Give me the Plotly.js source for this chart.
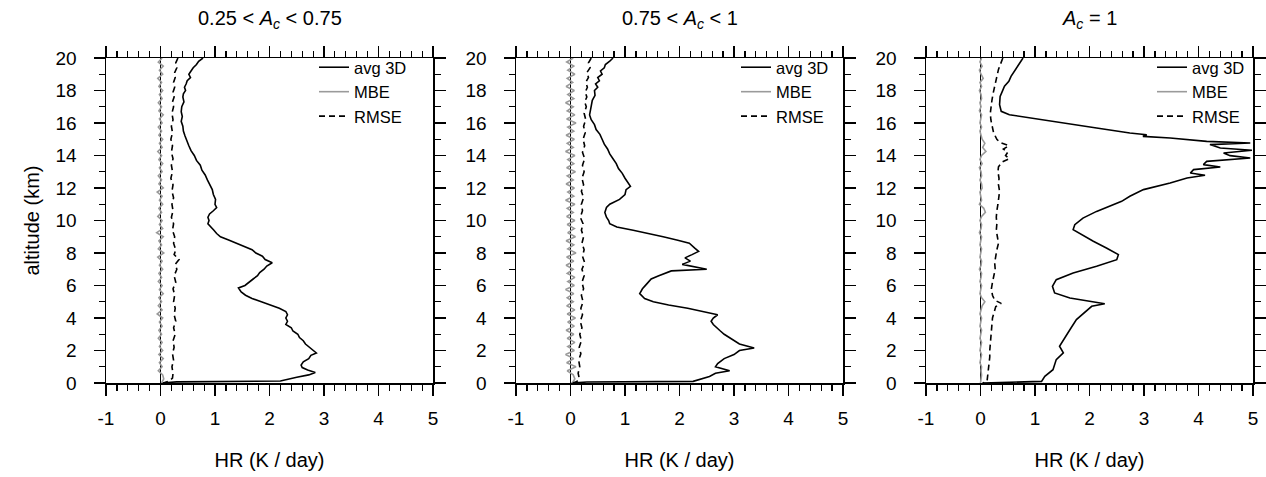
<!DOCTYPE html>
<html>
<head>
<meta charset="utf-8">
<script src="https://cdn.plot.ly/plotly-3.0.1.min.js"></script>
<style>html,body{margin:0;padding:0;background:#fff;}#chart{width:1266px;height:477px;}</style>
</head>
<body>
<div id="chart"></div>
<script>
// ---------- Data ----------
const panelTitles = ["0.25 &lt; <i>A</i><sub><i>c</i></sub> &lt; 0.75", "0.75 &lt; <i>A</i><sub><i>c</i></sub> &lt; 1", "<i>A</i><sub><i>c</i></sub> = 1"];
const seriesNames = ["avg 3D", "MBE", "RMSE"];
const xTitle = "HR (K / day)";
const yTitle = "altitude (km)";
const xTickVals = [-1, 0, 1, 2, 3, 4, 5];
const xTickText = ["-1", "0", "1", "2", "3", "4", "5"];
const yTickVals = [0, 2, 4, 6, 8, 10, 12, 14, 16, 18, 20];
const yTickText = ["0", "2", "4", "6", "8", "10", "12", "14", "16", "18", "20"];

// Panel 1: avg 3D
const avgAlt1 = [20.0,19.8,19.6,19.4,19.2,19.0,18.8,18.6,18.4,18.2,18.0,17.8,17.6,17.3,17.0,16.7,16.4,16.1,15.8,15.5,15.2,14.9,14.6,14.3,14.0,13.7,13.4,13.1,12.8,12.5,12.2,11.9,11.6,11.3,11.0,10.8,10.6,10.4,10.2,10.0,9.8,9.6,9.4,9.2,9.0,8.8,8.6,8.4,8.2,8.0,7.8,7.6,7.4,7.2,7.0,6.8,6.6,6.4,6.2,6.0,5.85,5.6,5.4,5.2,5.0,4.8,4.6,4.4,4.2,4.0,3.8,3.6,3.4,3.2,3.0,2.8,2.6,2.4,2.2,2.0,1.85,1.7,1.5,1.3,1.1,0.95,0.8,0.65,0.5,0.35,0.2,0.12,0.07,0.03,0.0];
const avg1 = [0.78,0.70,0.66,0.60,0.56,0.52,0.55,0.49,0.47,0.44,0.46,0.42,0.41,0.43,0.39,0.38,0.40,0.38,0.41,0.42,0.45,0.48,0.52,0.56,0.62,0.66,0.73,0.76,0.82,0.86,0.90,0.95,0.97,1.01,1.00,1.03,0.97,0.90,0.87,0.89,0.87,0.93,0.98,1.03,1.10,1.25,1.40,1.52,1.68,1.75,1.87,1.92,2.05,1.95,1.90,1.82,1.78,1.70,1.62,1.55,1.43,1.48,1.56,1.68,1.85,2.02,2.18,2.30,2.33,2.30,2.33,2.30,2.40,2.43,2.52,2.55,2.62,2.66,2.74,2.80,2.86,2.76,2.72,2.62,2.58,2.60,2.70,2.84,2.72,2.50,2.28,2.20,0.30,0.08,0.02];
// Panel 1: RMSE
const rmseAlt1 = [20,19.7,19.4,19.1,18.8,18.5,18.2,17.9,17.6,17.3,17.0,16.6,16.2,15.8,15.4,15.0,14.6,14.2,13.8,13.4,13.0,12.6,12.2,11.8,11.4,11.0,10.6,10.2,9.8,9.4,9.0,8.6,8.2,7.9,7.6,7.3,7.0,6.6,6.2,5.8,5.4,5.0,4.6,4.2,3.8,3.4,3.0,2.6,2.2,1.8,1.4,1.0,0.6,0.3,0.1,0];
const rmse1 = [0.32,0.28,0.30,0.26,0.27,0.24,0.26,0.23,0.25,0.22,0.24,0.21,0.23,0.20,0.22,0.19,0.22,0.20,0.23,0.20,0.22,0.19,0.23,0.21,0.24,0.21,0.23,0.20,0.24,0.22,0.26,0.24,0.28,0.25,0.34,0.27,0.30,0.25,0.28,0.23,0.26,0.24,0.27,0.25,0.28,0.24,0.27,0.23,0.25,0.22,0.24,0.21,0.23,0.22,0.15,0.05];

// Panel 2: avg 3D
const avgAlt2 = [20.0,19.8,19.6,19.4,19.2,19.0,18.8,18.6,18.4,18.2,18.0,17.7,17.4,17.1,16.8,16.5,16.2,15.9,15.6,15.3,15.0,14.7,14.4,14.1,13.8,13.5,13.2,12.9,12.6,12.3,12.1,11.9,11.6,11.3,11.0,10.8,10.5,10.2,10.0,9.8,9.6,9.4,9.2,9.0,8.8,8.6,8.3,8.1,7.9,7.7,7.5,7.3,7.0,6.9,6.6,6.4,6.1,5.8,5.5,5.2,5.0,4.8,4.6,4.4,4.2,4.0,3.8,3.6,3.4,3.2,3.0,2.7,2.4,2.15,2.0,1.75,1.5,1.2,1.0,0.75,0.6,0.4,0.2,0.1,0.06,0.02,0.0];
const avg2 = [0.78,0.72,0.64,0.62,0.55,0.58,0.50,0.53,0.46,0.50,0.44,0.45,0.40,0.38,0.36,0.35,0.38,0.44,0.47,0.54,0.58,0.62,0.68,0.72,0.78,0.84,0.88,0.95,1.00,1.06,1.10,1.02,1.00,0.90,0.72,0.66,0.63,0.66,0.70,0.72,0.85,1.15,1.45,1.70,1.95,2.18,2.28,2.35,2.23,2.10,2.20,2.05,2.50,1.85,1.62,1.48,1.40,1.32,1.27,1.36,1.52,1.80,2.15,2.40,2.70,2.62,2.58,2.62,2.68,2.75,2.82,2.95,3.10,3.37,3.10,3.00,2.82,2.70,2.66,2.92,2.66,2.55,2.35,2.25,0.30,0.05,0.02];
// Panel 2: RMSE
const rmseAlt2 = [20,19.7,19.4,19.1,18.8,18.5,18.2,17.9,17.6,17.3,17.0,16.6,16.2,15.8,15.4,15.0,14.6,14.2,13.8,13.4,13.0,12.6,12.2,11.8,11.4,11.0,10.6,10.2,9.8,9.4,9.0,8.6,8.2,7.8,7.4,7.0,6.6,6.2,5.8,5.4,5.0,4.6,4.2,3.8,3.4,3.0,2.6,2.2,1.8,1.4,1.0,0.6,0.3,0.1,0];
const rmse2 = [0.38,0.33,0.36,0.30,0.33,0.28,0.31,0.27,0.30,0.26,0.29,0.25,0.28,0.24,0.27,0.23,0.26,0.22,0.26,0.22,0.25,0.21,0.24,0.20,0.24,0.20,0.22,0.18,0.23,0.20,0.24,0.21,0.25,0.22,0.26,0.21,0.25,0.21,0.24,0.20,0.23,0.19,0.22,0.18,0.21,0.17,0.20,0.16,0.19,0.15,0.17,0.14,0.16,0.12,0.04];

// Panel 3: avg 3D
const avgAlt3 = [20.0,19.69,19.49,19.18,18.87,18.56,18.26,17.95,17.64,17.13,16.72,16.51,16.31,16.0,15.69,15.38,15.28,15.18,15.08,14.87,14.77,14.67,14.46,14.32,14.15,13.99,13.85,13.64,13.44,13.29,13.13,12.92,12.78,12.62,12.31,11.90,11.49,11.18,10.87,10.56,10.15,9.74,9.44,9.13,8.72,8.31,7.90,7.59,7.18,6.77,6.36,5.95,5.54,5.23,5.03,4.88,4.72,4.41,3.90,3.28,2.67,2.26,1.85,1.44,0.82,0.41,0.10,0.04,0.0];
const avg3 = [0.78,0.72,0.69,0.63,0.56,0.52,0.44,0.40,0.36,0.35,0.38,0.53,0.90,1.52,2.13,2.74,3.05,2.98,3.48,4.15,4.95,4.21,4.40,4.98,4.46,4.58,4.95,4.15,4.09,4.40,3.91,3.85,4.12,3.79,3.48,2.99,2.74,2.59,2.37,2.13,1.88,1.73,1.70,1.85,2.07,2.31,2.53,2.50,2.13,1.70,1.39,1.32,1.36,1.64,2.01,2.28,2.04,1.94,1.76,1.64,1.52,1.45,1.52,1.39,1.33,1.18,1.12,0.29,0.04];
// Panel 3: RMSE
const rmseAlt3 = [20,19.6,19.3,19.0,18.6,18.2,17.8,17.4,17.0,16.6,16.2,15.8,15.4,15.0,14.8,14.6,14.4,14.2,14.0,13.8,13.6,13.3,13.0,12.6,12.2,11.8,11.4,11.0,10.6,10.2,9.8,9.4,9.0,8.6,8.2,7.8,7.4,7.0,6.6,6.2,5.8,5.4,5.1,4.9,4.7,4.4,4.0,3.6,3.2,2.8,2.4,2.0,1.6,1.2,0.8,0.4,0.1,0];
const rmse3 = [0.41,0.36,0.33,0.31,0.28,0.26,0.23,0.21,0.19,0.18,0.19,0.21,0.24,0.30,0.36,0.52,0.42,0.50,0.46,0.53,0.40,0.33,0.32,0.34,0.33,0.35,0.34,0.32,0.30,0.29,0.30,0.29,0.31,0.33,0.30,0.28,0.26,0.27,0.24,0.22,0.20,0.22,0.26,0.38,0.28,0.25,0.22,0.21,0.20,0.18,0.18,0.17,0.17,0.16,0.15,0.14,0.12,0.04];

// MBE (all panels share the altitude grid)
const mbeAlt = [20,19.75,19.5,19.25,19,18.75,18.5,18.25,18,17.75,
  17.5,17.25,17,16.75,16.5,16.25,16,15.75,15.5,15.25,
  15,14.75,14.5,14.25,14,13.75,13.5,13.25,13,12.75,
  12.5,12.25,12,11.75,11.5,11.25,11,10.75,10.5,10.25,
  10,9.75,9.5,9.25,9,8.75,8.5,8.25,8,7.75,
  7.5,7.25,7,6.75,6.5,6.25,6,5.75,5.5,5.25,
  5,4.75,4.5,4.25,4,3.75,3.5,3.25,3,2.75,
  2.5,2.25,2,1.75,1.5,1.25,1,0.75,0.5,0.25,
  0];
const mbe1 = [0.03,-0.04,0.05,-0.02,0.04,-0.05,0.02,-0.03,0.04,-0.02,
  0.03,-0.04,0.02,-0.03,0.05,-0.02,0.03,-0.04,0.02,-0.03,
  0.04,-0.02,0.03,-0.05,0.02,-0.03,0.04,-0.02,0.03,-0.04,
  0.02,-0.03,0.05,-0.06,0.03,-0.02,0.04,-0.03,0.02,-0.05,
  0.03,-0.02,0.04,-0.07,0.05,-0.03,0.02,-0.04,0.06,-0.05,
  0.03,-0.02,0.04,-0.03,0.02,-0.04,0.03,-0.02,0.05,-0.03,
  0.02,-0.04,0.03,-0.06,0.04,-0.02,0.03,-0.03,0.02,-0.04,
  0.03,-0.02,0.04,-0.03,0.05,-0.02,0.03,-0.04,0.04,0.06,
  0.02];
const mbe2 = [0.05,-0.07,0.06,-0.05,0.08,-0.06,0.04,-0.08,0.07,-0.05,
  0.06,-0.09,0.05,-0.06,0.08,-0.07,0.10,-0.05,0.06,-0.08,
  0.07,-0.06,0.05,-0.09,0.08,-0.05,0.06,-0.07,0.09,-0.06,
  0.05,-0.08,0.07,-0.05,0.06,-0.09,0.08,-0.06,0.05,-0.07,
  0.08,-0.06,0.07,-0.05,0.09,-0.08,0.06,-0.05,0.10,-0.07,
  0.06,-0.08,0.05,-0.06,0.08,-0.05,0.07,-0.09,0.06,-0.06,
  0.05,-0.07,0.08,-0.06,0.09,-0.05,0.07,-0.08,0.06,-0.06,
  0.08,-0.05,0.07,-0.09,0.06,-0.07,0.10,-0.06,0.05,0.08,
  0.03];
const mbe3 = [0.02,-0.01,0.03,-0.02,0.01,0.05,-0.01,0.02,-0.02,0.01,
  0.02,-0.01,0.01,-0.02,0.02,0.01,-0.01,0.02,-0.01,0.01,
  0.03,0.08,0.04,0.10,0.02,-0.01,0.03,-0.02,0.01,0.02,
  -0.01,0.02,0.03,-0.01,0.01,0.02,-0.02,0.06,0.09,0.02,
  -0.01,0.02,0.01,-0.02,0.02,0.01,-0.01,0.02,0.01,-0.01,
  0.02,0.01,-0.02,0.02,0.01,-0.01,0.02,0.01,-0.01,0.02,
  0.08,0.03,0.01,-0.01,0.02,0.01,-0.01,0.02,0.01,-0.01,
  0.02,0.01,-0.01,0.02,0.01,-0.01,0.02,0.01,0.02,0.01,
  0.0];

const xRange = [-1, 5];
const yRange = [0, 20];

// ---------- Build ----------
const FONT = "Liberation Sans, Arial, Helvetica, sans-serif";
const panels = [
  {avgAlt: avgAlt1, avg: avg1, rmseAlt: rmseAlt1, rmse: rmse1, mbe: mbe1},
  {avgAlt: avgAlt2, avg: avg2, rmseAlt: rmseAlt2, rmse: rmse2, mbe: mbe2},
  {avgAlt: avgAlt3, avg: avg3, rmseAlt: rmseAlt3, rmse: rmse3, mbe: mbe3}
];
const xDomains = [[106/1266, 433/1266], [516/1266, 843/1266], [926/1266, 1253/1266]];
const yDomain = [94/477, 419/477];
const legendX = [314/1266, 736/1266, 1152/1266];

const data = [];
const layout = {
  width: 1266, height: 477,
  margin: {l: 0, r: 0, t: 0, b: 0},
  paper_bgcolor: "#fff", plot_bgcolor: "#fff",
  font: {family: FONT, color: "#000"},
  showlegend: true,
  annotations: []
};

panels.forEach((p, i) => {
  const n = i === 0 ? "" : String(i + 1);
  const xa = "x" + n, ya = "y" + n, lg = "legend" + n;
  data.push({x: p.avg, y: p.avgAlt, xaxis: xa, yaxis: ya, type: "scatter", mode: "lines",
    name: seriesNames[0], legend: lg, line: {color: "#000", width: 1.6}});
  data.push({x: p.mbe, y: mbeAlt, xaxis: xa, yaxis: ya, type: "scatter", mode: "lines",
    name: seriesNames[1], legend: lg, line: {color: "#9a9a9a", width: 1.6}});
  data.push({x: p.rmse, y: p.rmseAlt, xaxis: xa, yaxis: ya, type: "scatter", mode: "lines",
    name: seriesNames[2], legend: lg, line: {color: "#000", width: 1.6, dash: "6px,4px"}});

  layout["xaxis" + n] = {
    domain: xDomains[i], anchor: ya, range: xRange,
    tickmode: "array", tickvals: xTickVals, ticktext: xTickText,
    showgrid: false, zeroline: true, zerolinecolor: "#000", zerolinewidth: 1.5,
    showline: true, linecolor: "#000", linewidth: 1.5, mirror: "ticks",
    ticks: "outside", ticklen: 11, tickwidth: 1.5, tickcolor: "#000",
    minor: {tickmode: "linear", tick0: 0, dtick: 0.2, ticks: "outside", ticklen: 6, tickwidth: 1.2, tickcolor: "#000", showgrid: false},
    tickfont: {size: 19, family: FONT}, ticklabelstandoff: 7,
    title: {text: xTitle, font: {size: 20, family: FONT}, standoff: 24},
    automargin: false, fixedrange: true
  };
  layout["yaxis" + n] = {
    domain: yDomain, anchor: xa, range: yRange,
    tickmode: "array", tickvals: yTickVals, ticktext: yTickText,
    showgrid: false, zeroline: false,
    showline: true, linecolor: "#000", linewidth: 1.5, mirror: "ticks",
    ticks: "outside", ticklen: 11, tickwidth: 1.5, tickcolor: "#000",
    minor: {tickmode: "linear", tick0: 0, dtick: 1, ticks: "outside", ticklen: 6, tickwidth: 1.2, tickcolor: "#000", showgrid: false},
    tickfont: {size: 19, family: FONT}, ticklabelstandoff: 13,
    title: i === 0 ? {text: yTitle, font: {size: 20, family: FONT}, standoff: 10} : {text: ""},
    automargin: false, fixedrange: true
  };
  // overlay axes: inner part of the major ticks (major ticks cross the frame)
  const k = i + 4;
  layout["xaxis" + k] = {
    overlaying: xa, anchor: ya, range: xRange, tickmode: "array", tickvals: xTickVals,
    showticklabels: false, showgrid: false, zeroline: false, showline: false,
    ticks: "inside", ticklen: 5, tickwidth: 1.5, tickcolor: "#000", mirror: "ticks",
    automargin: false, fixedrange: true
  };
  layout["yaxis" + k] = {
    overlaying: ya, anchor: xa, range: yRange, tickmode: "array", tickvals: yTickVals,
    showticklabels: false, showgrid: false, zeroline: false, showline: false,
    ticks: "inside", ticklen: 5, tickwidth: 1.5, tickcolor: "#000", mirror: "ticks",
    automargin: false, fixedrange: true
  };
  layout[lg] = {
    x: legendX[i], y: 1 - 50/477, xanchor: "left", yanchor: "top",
    bgcolor: "rgba(0,0,0,0)", borderwidth: 0,
    font: {size: 16.5, family: FONT}, tracegroupgap: 0
  };
  layout.annotations.push({
    text: panelTitles[i], xref: "paper", yref: "paper",
    x: (xDomains[i][0] + xDomains[i][1]) / 2, y: 1 - 20/477,
    xanchor: "center", yanchor: "middle", showarrow: false,
    font: {size: 20, family: FONT}
  });
});

Plotly.newPlot("chart", data, layout, {displayModeBar: false, staticPlot: true});
</script>
</body>
</html>
